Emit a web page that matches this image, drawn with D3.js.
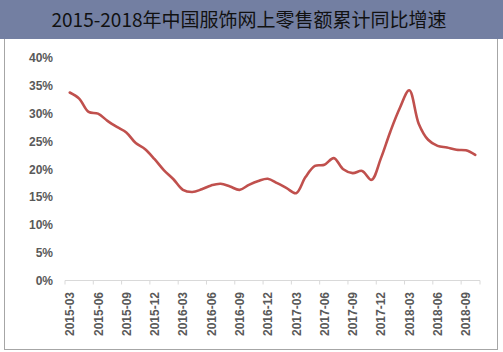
<!DOCTYPE html>
<html><head><meta charset="utf-8">
<script src="https://cdn.jsdelivr.net/npm/d3@7"></script>
<style>body{margin:0;background:#fff}svg{display:block}</style>
</head><body><svg id="c" width="503" height="352"></svg>
<script>
const title = "2015-2018年中国服饰网上零售额累计同比增速";
const months = [];
for (let y = 2015; y <= 2018; y++) for (let m = 1; m <= 12; m++) {
  const s = y + "-" + String(m).padStart(2, "0");
  if (s >= "2015-03" && s <= "2018-10") months.push(s);
}
const values = [33.8,32.7,30.3,30.0,28.7,27.6,26.6,24.7,23.6,21.8,19.8,18.2,16.3,15.9,16.4,17.1,17.4,16.9,16.3,17.2,17.9,18.3,17.5,16.6,15.7,18.6,20.6,20.8,22.0,20.0,19.3,19.7,18.1,22.0,26.8,31.0,34.2,28.2,25.3,24.2,23.9,23.5,23.4,22.6];
const yTicks = [0,5,10,15,20,25,30,35,40];
const labelMonths = months.filter(d => ["03","06","09","12"].includes(d.slice(5)));

const svg = d3.select("#c");
svg.append("rect").attr("x",4.5).attr("y",38).attr("width",493).attr("height",311.5)
  .attr("fill","#fff").attr("stroke","#a6a6a6");
svg.append("rect").attr("x",0).attr("y",0).attr("width",503).attr("height",39).attr("fill","#737fa2");
svg.append("text").attr("x",249).attr("y",27).attr("text-anchor","middle")
  .attr("font-family","'Noto Sans CJK SC', sans-serif").attr("font-size",19).attr("fill","#111")
  .text(title);

const x = d3.scaleBand().domain(months).range([65,480]);
const y = d3.scaleLinear().domain([0,40]).range([280.5,58]);

const font = "'Liberation Sans', Arial, sans-serif";
const yAxis = svg.append("g").attr("transform","translate(53,0)")
  .call(d3.axisLeft(y).tickValues(yTicks).tickFormat(d => d + "%").tickSize(0).tickPadding(0));
yAxis.select(".domain").remove();
yAxis.selectAll("text").attr("font-family",font).attr("font-size",12).attr("font-weight","bold").attr("fill","#595959");

const gx = svg.append("g").attr("transform","translate(0,280.5)");
gx.append("line").attr("x1",65).attr("x2",480).attr("y1",0).attr("y2",0).attr("stroke","#d9d9d9");
const tickPos = labelMonths.map(m => x(m)).concat([480]);
gx.selectAll("line.t").data(tickPos).join("line").attr("class","t")
  .attr("x1",d=>d).attr("x2",d=>d).attr("y1",0).attr("y2",4).attr("stroke","#d9d9d9");
gx.selectAll("text").data(labelMonths).join("text")
  .attr("transform", d => `translate(${x(d)+x.bandwidth()/2+4.5},${11.5}) rotate(-90)`)
  .attr("text-anchor","end")
  .attr("font-family",font).attr("font-size",12).attr("font-weight","bold").attr("fill","#595959")
  .text(d => d);

const line = d3.line().x((d,i)=>x(months[i])+x.bandwidth()/2).y(d=>y(d)).curve(d3.curveCatmullRom.alpha(0.5));
svg.append("path").datum(values).attr("d",line).attr("fill","none")
  .attr("stroke","#c0504d").attr("stroke-width",2.6).attr("stroke-linejoin","round").attr("stroke-linecap","round");
</script></body></html>
